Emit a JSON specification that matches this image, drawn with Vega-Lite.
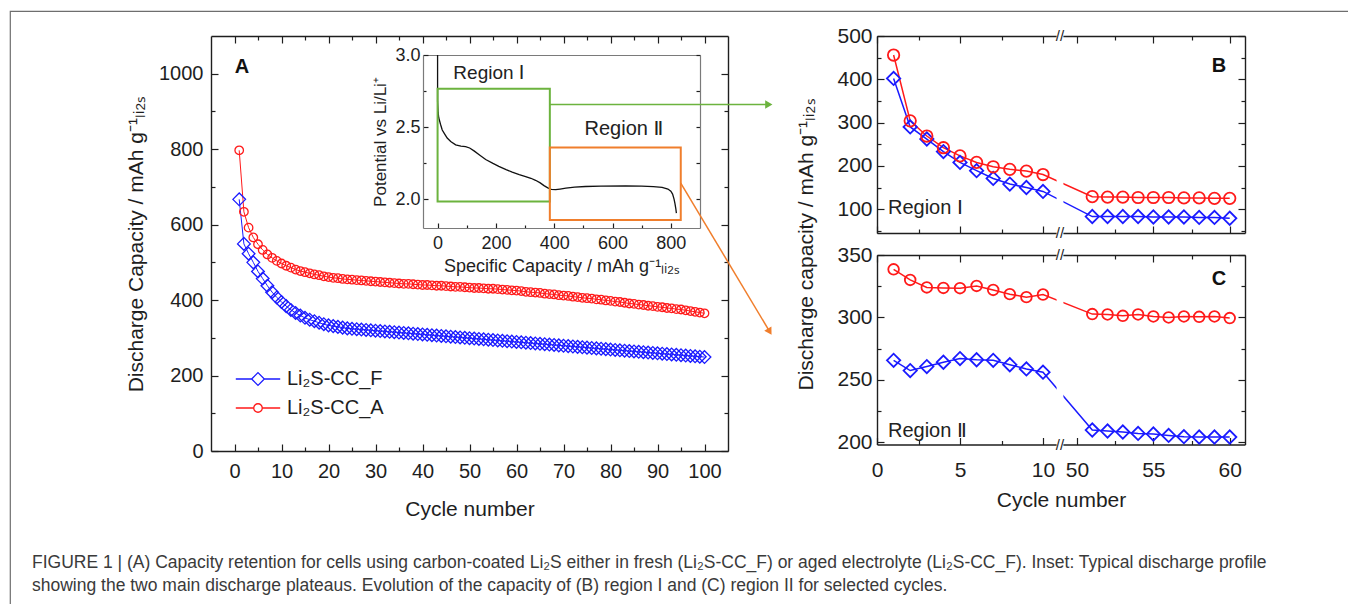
{
"$schema": "https://vega.github.io/schema/vega-lite/v6.json",
"width": 1338,
"height": 593,
"autosize": {"type": "none"},
"padding": {"left": 10, "top": 11, "right": 0, "bottom": 0},
"background": "white",
"config": {
  "view": {"stroke": "#6e6e6e", "strokeWidth": 1.2, "strokeDash": [1338, 1931, 593]},
  "font": "Liberation Sans",
  "axis": {"grid": false, "labelFont": "Liberation Sans", "titleFont": "Liberation Sans", "labelColor": "#1e1e1e", "titleColor": "#1e1e1e", "titleFontWeight": "normal", "domainColor": "#1e1e1e", "domainWidth": 1.4, "tickColor": "#1e1e1e", "tickWidth": 1.2, "labelFlush": false, "labelOverlap": false, "labelBound": false},
  "text": {"font": "Liberation Sans, DejaVu Sans"}
},
"title": {
  "text": ["FIGURE 1 | (A) Capacity retention for cells using carbon-coated Li₂S either in fresh (Li₂S-CC_F) or aged electrolyte (Li₂S-CC_F). Inset: Typical discharge profile", "showing the two main discharge plateaus. Evolution of the capacity of (B) region I and (C) region II for selected cycles."],
  "orient": "bottom", "anchor": "start", "frame": "group", "offset": -50, "dx": 22,
  "font": "Liberation Sans", "fontSize": 17.5, "fontWeight": "normal", "color": "#3a3a3a", "lineHeight": 23
},
"datasets": {
  "a": [{"c":1,"F":667,"A":797},{"c":2,"F":549,"A":634},{"c":3,"F":523,"A":592},{"c":4,"F":500,"A":566},{"c":5,"F":476,"A":548},{"c":6,"F":457,"A":533},{"c":7,"F":438,"A":521},{"c":8,"F":421,"A":512},{"c":9,"F":407,"A":504},{"c":10,"F":395,"A":497},
{"c":11,"F":384,"A":491},{"c":12,"F":374,"A":486},{"c":13,"F":366,"A":481},{"c":14,"F":359,"A":477},{"c":15,"F":353,"A":474},{"c":16,"F":348,"A":471},{"c":17,"F":344,"A":468},{"c":18,"F":340,"A":466},{"c":19,"F":336,"A":463},{"c":20,"F":333,"A":461},
{"c":21,"F":331,"A":459},{"c":22,"F":329,"A":458},{"c":23,"F":327,"A":456},{"c":24,"F":325,"A":455},{"c":25,"F":324,"A":454},{"c":26,"F":323,"A":453},{"c":27,"F":322,"A":452},{"c":28,"F":321,"A":451},{"c":29,"F":320,"A":450},{"c":30,"F":319,"A":449},
{"c":31,"F":318,"A":448},{"c":32,"F":317,"A":447},{"c":33,"F":316,"A":446},{"c":34,"F":315,"A":445},{"c":35,"F":314,"A":444},{"c":36,"F":313,"A":443},{"c":37,"F":312,"A":443},{"c":38,"F":311,"A":442},{"c":39,"F":310,"A":441},{"c":40,"F":309,"A":440},
{"c":41,"F":308,"A":440},{"c":42,"F":307,"A":439},{"c":43,"F":306,"A":438},{"c":44,"F":305,"A":438},{"c":45,"F":304,"A":437},{"c":46,"F":303,"A":436},{"c":47,"F":302,"A":435},{"c":48,"F":301,"A":435},{"c":49,"F":300,"A":434},{"c":50,"F":299,"A":433},
{"c":51,"F":298,"A":432},{"c":52,"F":297,"A":432},{"c":53,"F":296,"A":431},{"c":54,"F":295,"A":430},{"c":55,"F":294,"A":430},{"c":56,"F":293,"A":429},{"c":57,"F":292,"A":428},{"c":58,"F":291,"A":427},{"c":59,"F":290,"A":426},{"c":60,"F":289,"A":425},
{"c":61,"F":288,"A":424},{"c":62,"F":287,"A":422},{"c":63,"F":286,"A":421},{"c":64,"F":285,"A":420},{"c":65,"F":284,"A":419},{"c":66,"F":283,"A":417},{"c":67,"F":282,"A":416},{"c":68,"F":281,"A":415},{"c":69,"F":280,"A":413},{"c":70,"F":279,"A":412},
{"c":71,"F":278,"A":411},{"c":72,"F":277,"A":409},{"c":73,"F":276,"A":408},{"c":74,"F":275,"A":406},{"c":75,"F":274,"A":405},{"c":76,"F":273,"A":404},{"c":77,"F":272,"A":402},{"c":78,"F":271,"A":401},{"c":79,"F":270,"A":399},{"c":80,"F":269,"A":398},
{"c":81,"F":268,"A":396},{"c":82,"F":267,"A":395},{"c":83,"F":266,"A":393},{"c":84,"F":265,"A":391},{"c":85,"F":264,"A":390},{"c":86,"F":263,"A":388},{"c":87,"F":262,"A":387},{"c":88,"F":261,"A":385},{"c":89,"F":260,"A":384},{"c":90,"F":259,"A":382},
{"c":91,"F":258,"A":381},{"c":92,"F":257,"A":379},{"c":93,"F":256,"A":378},{"c":94,"F":255,"A":376},{"c":95,"F":254,"A":375},{"c":96,"F":253,"A":373},{"c":97,"F":252,"A":371},{"c":98,"F":251,"A":369},{"c":99,"F":250,"A":367},{"c":100,"F":249,"A":365}],
  "b": [{"c":1,"F":402,"A":456},{"c":2,"F":290,"A":304},{"c":3,"F":262,"A":269},{"c":4,"F":233,"A":242},{"c":5,"F":208,"A":223},{"c":6,"F":189,"A":208},{"c":7,"F":171,"A":198},{"c":8,"F":158,"A":192},{"c":9,"F":150,"A":188},{"c":10,"F":141,"A":180},
{"c":51,"F":83,"A":129},{"c":52,"F":83,"A":128},{"c":53,"F":83,"A":128},{"c":54,"F":83,"A":127},{"c":55,"F":82,"A":127},{"c":56,"F":82,"A":127},{"c":57,"F":82,"A":126},{"c":58,"F":81,"A":126},{"c":59,"F":81,"A":125},{"c":60,"F":79,"A":125}],
  "cc": [{"c":1,"F":265.5,"A":338.5},{"c":2,"F":257.3,"A":330},{"c":3,"F":260.5,"A":324},{"c":4,"F":264,"A":323.6},{"c":5,"F":266.9,"A":323.4},{"c":6,"F":266,"A":325.2},{"c":7,"F":265.5,"A":322},{"c":8,"F":262,"A":318.6},{"c":9,"F":258.6,"A":316.2},{"c":10,"F":256,"A":318.3},
{"c":51,"F":209.6,"A":302.6},{"c":52,"F":208.8,"A":302.3},{"c":53,"F":208,"A":301.2},{"c":54,"F":206.9,"A":302.3},{"c":55,"F":206.4,"A":300.7},{"c":56,"F":205.3,"A":299.9},{"c":57,"F":204.3,"A":300.7},{"c":58,"F":204,"A":300.4},{"c":59,"F":204,"A":300.7},{"c":60,"F":204,"A":299.4}],
  "ins": [{"i":0,"q":0,"p":3.0},{"i":1,"q":0,"p":2.68},{"i":2,"q":2,"p":2.6},{"i":3,"q":4,"p":2.565},{"i":4,"q":10,"p":2.52},{"i":5,"q":16,"p":2.48},{"i":6,"q":25,"p":2.45},{"i":7,"q":33,"p":2.424},{"i":8,"q":45,"p":2.4},{"i":9,"q":62,"p":2.377},{"i":10,"q":80,"p":2.368},{"i":11,"q":96,"p":2.365},{"i":12,"q":110,"p":2.355},{"i":13,"q":125,"p":2.335},{"i":14,"q":145,"p":2.305},{"i":15,"q":165,"p":2.275},{"i":16,"q":190,"p":2.248},{"i":17,"q":210,"p":2.228},{"i":18,"q":235,"p":2.205},{"i":19,"q":256,"p":2.187},{"i":20,"q":280,"p":2.17},{"i":21,"q":302,"p":2.157},{"i":22,"q":320,"p":2.145},{"i":23,"q":336,"p":2.131},{"i":24,"q":352,"p":2.113},{"i":25,"q":365,"p":2.094},{"i":26,"q":378,"p":2.078},{"i":27,"q":390,"p":2.068},{"i":28,"q":405,"p":2.066},{"i":29,"q":420,"p":2.07},{"i":30,"q":440,"p":2.076},{"i":31,"q":470,"p":2.083},{"i":32,"q":507,"p":2.088},{"i":33,"q":560,"p":2.09},{"i":34,"q":645,"p":2.092},{"i":35,"q":700,"p":2.09},{"i":36,"q":740,"p":2.087},{"i":37,"q":770,"p":2.082},{"i":38,"q":790,"p":2.07},{"i":39,"q":800,"p":2.055},{"i":40,"q":806,"p":2.035},{"i":41,"q":811,"p":2.0},{"i":42,"q":814,"p":1.97},{"i":43,"q":817,"p":1.935},{"i":44,"q":819,"p":1.903}],
  "boxes": [{"r":"I","x1":0,"x2":385,"y1":1.983,"y2":2.766},{"r":"II","x1":385,"x2":834,"y1":1.856,"y2":2.358}],
  "arrows": [{"r":"I","x1":385,"y1":2.657,"x2":1136,"y2":2.657},{"r":"II","x1":834,"y1":2.111,"x2":1139,"y2":1.081}]
},
"resolve": {"scale": {"x": "independent", "y": "independent", "shape": "independent"}},
"layer": [
 {
  "resolve": {"axis": {"x": "independent", "y": "independent"}},
  "layer": [
   {
    "data": {"name": "a"},
    "transform": [{"fold": ["F", "A"], "as": ["s", "v"]}],
    "mark": {"type": "line", "strokeWidth": 1},
    "encoding": {
     "x": {"field": "c", "type": "quantitative",
       "scale": {"domain": [-5, 105], "range": [201, 718], "nice": false, "zero": false},
       "axis": {"orient": "bottom", "offset": -153, "values": [0,5,10,15,20,25,30,35,40,45,50,55,60,65,70,75,80,85,90,95,100],
         "labelExpr": "datum.value % 10 === 0 ? datum.label : ''",
         "tickSize": {"condition": {"test": "datum.value % 10 !== 0", "value": -4}, "value": -7},
         "labelPadding": 17.5, "labelFontSize": 20, "title": "Cycle number", "titleFontSize": 21, "titlePadding": 14}},
     "y": {"field": "v", "type": "quantitative",
       "scale": {"domain": [0, 1100], "range": [440, 25], "nice": false, "zero": false},
       "axis": {"orient": "left", "offset": -201, "values": [0,100,200,300,400,500,600,700,800,900,1000], "format": "d",
         "labelExpr": "datum.value % 200 === 0 ? datum.label : ''",
         "tickSize": {"condition": {"test": "datum.value % 200 !== 0", "value": -4}, "value": -7},
         "labelPadding": 15, "labelFontSize": 20, "title": "Discharge Capacity / mAh g⁻¹ₗᵢ₂ₛ", "titleFontSize": 21, "titlePadding": 12}},
     "color": {"field": "s", "type": "nominal", "scale": {"domain": ["F", "A"], "range": ["#1a1aff", "#ff1a1a"]},
       "legend": {"orient": "none", "legendX": 238, "legendY": 358, "title": null, "padding": 0,
         "labelFontSize": 20, "labelFont": "Liberation Sans", "labelColor": "#1e1e1e", "symbolSize": 161, "symbolStrokeWidth": 1.3,
         "labelOffset": 19, "rowPadding": 9,
         "labelExpr": "datum.value === 'F' ? 'Li₂S-CC_F' : 'Li₂S-CC_A'",
         "encode": {"symbols": {"update": {"shape": {"signal": "datum.value === 'F' ? 'M-3.5,0H-1M1,0H3.5M-1,0L0,-1L1,0L0,1Z' : 'M-3.5,0H-0.67M0.67,0H3.5M0.67,0A0.67,0.67,0,1,1,-0.67,0A0.67,0.67,0,1,1,0.67,0Z'"}, "fill": {"value": "transparent"}, "strokeWidth": {"value": 1.3}}}}}}
    }
   },
   {
    "data": {"name": "a"},
    "transform": [{"fold": ["F", "A"], "as": ["s", "v"]}],
    "mark": {"type": "point", "filled": false, "strokeWidth": 1.3, "opacity": 1, "size": 161},
    "encoding": {
     "x": {"field": "c", "type": "quantitative",
       "axis": {"orient": "top", "offset": -25, "values": [0,5,10,15,20,25,30,35,40,45,50,55,60,65,70,75,80,85,90,95,100], "labels": false, "title": null,
         "tickSize": {"condition": {"test": "datum.value % 10 !== 0", "value": -4}, "value": -7}}},
     "y": {"field": "v", "type": "quantitative",
       "axis": {"orient": "right", "offset": -620, "values": [0,100,200,300,400,500,600,700,800,900,1000], "labels": false, "title": null,
         "tickSize": {"condition": {"test": "datum.value % 200 !== 0", "value": -4}, "value": -7}}},
     "color": {"field": "s", "type": "nominal"},
     "shape": {"field": "s", "type": "nominal",
       "scale": {"domain": ["F", "A"], "range": ["M-1,0L0,-1L1,0L0,1Z", "M0.67,0A0.67,0.67,0,1,1,-0.67,0A0.67,0.67,0,1,1,0.67,0Z"]}, "legend": null}
    }
   },
   {
    "data": {"values": [{"t": "A"}]},
    "mark": {"type": "text", "fontSize": 20, "fontWeight": "bold", "color": "#111"},
    "encoding": {"x": {"datum": 1.6, "type": "quantitative", "axis": null}, "y": {"datum": 1019, "type": "quantitative", "axis": null}, "text": {"field": "t"}}
   }
  ]
 },
 {
  "resolve": {"axis": {"x": "independent", "y": "independent"}},
  "layer": [
   {
    "data": {"name": "ins"},
    "mark": {"type": "line", "color": "#111", "strokeWidth": 1.3},
    "encoding": {
     "x": {"field": "q", "type": "quantitative",
       "scale": {"domain": [-50, 900], "range": [413, 690], "nice": false, "zero": false},
       "axis": {"orient": "bottom", "offset": -376, "values": [0,100,200,300,400,500,600,700,800],
         "labelExpr": "datum.value % 200 === 0 ? datum.label : ''",
         "tickSize": {"condition": {"test": "datum.value % 200 !== 0", "value": -3}, "value": -5},
         "labelPadding": 11, "labelFontSize": 18, "title": "Specific Capacity / mAh g⁻¹ₗᵢ₂ₛ", "titleFontSize": 18, "titlePadding": 3,
         "domainColor": "#7a7a7a", "domainWidth": 1.2}},
     "y": {"field": "p", "type": "quantitative",
       "scale": {"domain": [1.8, 3.0], "range": [217, 44], "nice": false, "zero": false},
       "axis": {"orient": "left", "offset": -413, "values": [2, 2.25, 2.5, 2.75, 3], "format": ".1f",
         "labelExpr": "(datum.value * 4) % 2 === 0 ? datum.label : ''",
         "tickSize": {"condition": {"test": "(datum.value * 4) % 2 !== 0", "value": -3}, "value": -5},
         "labelPadding": 8, "labelFontSize": 18, "title": "Potential vs Li/Li⁺", "titleFontSize": 17, "titlePadding": 5,
         "domainColor": "#7a7a7a", "domainWidth": 1.2}},
     "order": {"field": "i", "type": "quantitative"}
    }
   },
   {
    "data": {"name": "boxes"},
    "mark": {"type": "rect", "fill": "transparent", "strokeWidth": 2},
    "encoding": {
     "x": {"field": "x1", "type": "quantitative", "axis": {"orient": "top", "offset": -44, "labels": false, "ticks": false, "title": null, "domainColor": "#7a7a7a", "domainWidth": 1.2}},
     "x2": {"field": "x2"},
     "y": {"field": "y1", "type": "quantitative", "axis": {"orient": "right", "offset": -648, "values": [2, 2.25, 2.5, 2.75, 3], "labels": false, "title": null, "tickSize": -4, "domainColor": "#7a7a7a", "domainWidth": 1.2}},
     "y2": {"field": "y2"},
     "stroke": {"field": "r", "type": "nominal", "scale": {"domain": ["I", "II"], "range": ["#6cb33e", "#f07e2c"]}, "legend": null}
    }
   },
   {
    "data": {"name": "arrows"},
    "mark": {"type": "rule", "strokeWidth": 1.5},
    "encoding": {
     "x": {"field": "x1", "type": "quantitative", "axis": null},
     "x2": {"field": "x2"},
     "y": {"field": "y1", "type": "quantitative", "axis": null},
     "y2": {"field": "y2"},
     "stroke": {"field": "r", "type": "nominal", "legend": null}
    }
   },
   {
    "data": {"name": "arrows"},
    "transform": [{"filter": "datum.r === 'I'"}],
    "mark": {"type": "point", "shape": "triangle-right", "filled": true, "size": 70, "color": "#6cb33e", "opacity": 1},
    "encoding": {"x": {"field": "x2", "type": "quantitative", "axis": null}, "y": {"field": "y2", "type": "quantitative", "axis": null}}
   },
   {
    "data": {"name": "arrows"},
    "transform": [{"filter": "datum.r === 'II'"}],
    "mark": {"type": "point", "shape": "triangle-right", "filled": true, "size": 70, "color": "#f07e2c", "opacity": 1, "angle": 59},
    "encoding": {"x": {"field": "x2", "type": "quantitative", "axis": null}, "y": {"field": "y2", "type": "quantitative", "axis": null}}
   },
   {
    "data": {"values": [{"t": "Region Ⅰ"}]},
    "mark": {"type": "text", "fontSize": 19, "color": "#222"},
    "encoding": {"x": {"datum": 176, "type": "quantitative", "axis": null}, "y": {"datum": 2.877, "type": "quantitative", "axis": null}, "text": {"field": "t"}}
   },
   {
    "data": {"values": [{"t": "Region Ⅱ"}]},
    "mark": {"type": "text", "fontSize": 20, "color": "#222"},
    "encoding": {"x": {"datum": 639, "type": "quantitative", "axis": null}, "y": {"datum": 2.488, "type": "quantitative", "axis": null}, "text": {"field": "t"}}
   }
  ]
 },
 {
  "resolve": {"axis": {"x": "independent", "y": "independent"}},
  "layer": [
   {
    "data": {"name": "b"},
    "transform": [{"fold": ["F", "A"], "as": ["s", "v"]}],
    "mark": {"type": "line", "strokeWidth": 1.5},
    "encoding": {
     "x": {"field": "c", "type": "quantitative",
       "scale": {"domain": [0, 10, 50, 61], "range": [867, 1033, 1067, 1235], "nice": false, "zero": false},
       "axis": {"orient": "bottom", "offset": -371, "values": [0,2.5,5,7.5,10,50,52.5,55,57.5,60], "labels": false, "title": null,
         "tickSize": {"condition": {"test": "datum.value % 5 !== 0", "value": -4}, "value": -7}}},
     "y": {"field": "v", "type": "quantitative",
       "scale": {"domain": [45, 500], "range": [222, 25], "nice": false, "zero": false},
       "axis": {"orient": "left", "offset": -867, "values": [50,100,150,200,250,300,350,400,450,500],
         "labelExpr": "datum.value % 100 === 0 ? datum.label : ''",
         "tickSize": {"condition": {"test": "datum.value % 100 !== 0", "value": -4}, "value": -7},
         "labelPadding": 12, "labelFontSize": 21, "title": "Discharge capacity / mAh g⁻¹ₗᵢ₂ₛ", "titleFontSize": 21, "titleX": -61, "titleY": 233}},
     "color": {"field": "s", "type": "nominal"}
    }
   },
   {
    "data": {"values": [{"k": 1}]},
    "mark": {"type": "rect", "color": "white", "opacity": 1},
    "encoding": {"x": {"datum": 26, "type": "quantitative", "axis": null}, "x2": {"datum": 34}, "y": {"datum": 40, "type": "quantitative", "axis": null}, "y2": {"datum": 505}}
   },
   {
    "data": {"name": "b"},
    "transform": [{"fold": ["F", "A"], "as": ["s", "v"]}],
    "mark": {"type": "point", "filled": false, "strokeWidth": 1.8, "opacity": 1, "size": 177},
    "encoding": {
     "x": {"field": "c", "type": "quantitative",
       "axis": {"orient": "top", "offset": -25, "values": [0,2.5,5,7.5,10,50,52.5,55,57.5,60], "labels": false, "title": null,
         "tickSize": {"condition": {"test": "datum.value % 5 !== 0", "value": -4}, "value": -7}}},
     "y": {"field": "v", "type": "quantitative",
       "axis": {"orient": "right", "offset": -103, "values": [50,100,150,200,250,300,350,400,450,500], "labels": false, "title": null,
         "tickSize": {"condition": {"test": "datum.value % 100 !== 0", "value": -4}, "value": -7}}},
     "color": {"field": "s", "type": "nominal"},
     "shape": {"field": "s", "type": "nominal",
       "scale": {"domain": ["F", "A"], "range": ["M-1,0L0,-1L1,0L0,1Z", "M0.86,0A0.86,0.86,0,1,1,-0.86,0A0.86,0.86,0,1,1,0.86,0Z"]}, "legend": null}
    }
   },
   {
    "data": {"values": [{"t": "B"}]},
    "mark": {"type": "text", "fontSize": 20, "fontWeight": "bold", "color": "#111"},
    "encoding": {"x": {"datum": 59.3, "type": "quantitative", "axis": null}, "y": {"datum": 430, "type": "quantitative", "axis": null}, "text": {"field": "t"}}
   },
   {
    "data": {"values": [{"t": "Region Ⅰ"}]},
    "mark": {"type": "text", "fontSize": 20, "color": "#222", "align": "left"},
    "encoding": {"x": {"datum": 0.66, "type": "quantitative", "axis": null}, "y": {"datum": 103, "type": "quantitative", "axis": null}, "text": {"field": "t"}}
   },
   {
    "data": {"values": [{"t": "//"}]},
    "mark": {"type": "text", "fontSize": 15, "color": "#1e1e1e"},
    "encoding": {"x": {"datum": 30, "type": "quantitative", "axis": null}, "y": {"datum": 500, "type": "quantitative", "axis": null}, "text": {"field": "t"}}
   },
   {
    "data": {"values": [{"t": "//"}]},
    "mark": {"type": "text", "fontSize": 15, "color": "#1e1e1e"},
    "encoding": {"x": {"datum": 30, "type": "quantitative", "axis": null}, "y": {"datum": 45, "type": "quantitative", "axis": null}, "text": {"field": "t"}}
   }
  ]
 },
 {
  "resolve": {"axis": {"x": "independent", "y": "independent"}},
  "layer": [
   {
    "data": {"name": "cc"},
    "transform": [{"fold": ["F", "A"], "as": ["s", "v"]}],
    "mark": {"type": "line", "strokeWidth": 1.5},
    "encoding": {
     "x": {"field": "c", "type": "quantitative",
       "scale": {"domain": [0, 10, 50, 61], "range": [867, 1033, 1067, 1235], "nice": false, "zero": false},
       "axis": {"orient": "bottom", "offset": -159.5, "values": [0,2.5,5,7.5,10,50,52.5,55,57.5,60],
         "labelExpr": "datum.value % 5 === 0 ? datum.label : ''",
         "tickSize": {"condition": {"test": "datum.value % 5 !== 0", "value": -4}, "value": -7},
         "labelPadding": 22, "labelFontSize": 21, "title": "Cycle number", "titleFontSize": 21, "titlePadding": 6}},
     "y": {"field": "v", "type": "quantitative",
       "scale": {"domain": [198, 350], "range": [433.5, 244], "nice": false, "zero": false},
       "axis": {"orient": "left", "offset": -867, "values": [200,225,250,275,300,325,350],
         "labelExpr": "datum.value % 50 === 0 ? datum.label : ''",
         "tickSize": {"condition": {"test": "datum.value % 50 !== 0", "value": -4}, "value": -7},
         "labelPadding": 12, "labelFontSize": 21, "title": null}},
     "color": {"field": "s", "type": "nominal"}
    }
   },
   {
    "data": {"values": [{"k": 1}]},
    "mark": {"type": "rect", "color": "white", "opacity": 1},
    "encoding": {"x": {"datum": 26, "type": "quantitative", "axis": null}, "x2": {"datum": 34}, "y": {"datum": 195, "type": "quantitative", "axis": null}, "y2": {"datum": 353}}
   },
   {
    "data": {"name": "cc"},
    "transform": [{"fold": ["F", "A"], "as": ["s", "v"]}],
    "mark": {"type": "point", "filled": false, "strokeWidth": 1.8, "opacity": 1, "size": 177},
    "encoding": {
     "x": {"field": "c", "type": "quantitative",
       "axis": {"orient": "top", "offset": -244, "values": [0,2.5,5,7.5,10,50,52.5,55,57.5,60], "labels": false, "title": null,
         "tickSize": {"condition": {"test": "datum.value % 5 !== 0", "value": -4}, "value": -7}}},
     "y": {"field": "v", "type": "quantitative",
       "axis": {"orient": "right", "offset": -103, "values": [200,225,250,275,300,325,350], "labels": false, "title": null,
         "tickSize": {"condition": {"test": "datum.value % 50 !== 0", "value": -4}, "value": -7}}},
     "color": {"field": "s", "type": "nominal"},
     "shape": {"field": "s", "type": "nominal",
       "scale": {"domain": ["F", "A"], "range": ["M-1,0L0,-1L1,0L0,1Z", "M0.8,0A0.8,0.8,0,1,1,-0.8,0A0.8,0.8,0,1,1,0.8,0Z"]}, "legend": null}
    }
   },
   {
    "data": {"values": [{"t": "C"}]},
    "mark": {"type": "text", "fontSize": 20, "fontWeight": "bold", "color": "#111"},
    "encoding": {"x": {"datum": 59.3, "type": "quantitative", "axis": null}, "y": {"datum": 330.8, "type": "quantitative", "axis": null}, "text": {"field": "t"}}
   },
   {
    "data": {"values": [{"t": "Region Ⅱ"}]},
    "mark": {"type": "text", "fontSize": 20, "color": "#222", "align": "left"},
    "encoding": {"x": {"datum": 0.66, "type": "quantitative", "axis": null}, "y": {"datum": 208.6, "type": "quantitative", "axis": null}, "text": {"field": "t"}}
   },
   {
    "data": {"values": [{"t": "//"}]},
    "mark": {"type": "text", "fontSize": 15, "color": "#1e1e1e"},
    "encoding": {"x": {"datum": 30, "type": "quantitative", "axis": null}, "y": {"datum": 350, "type": "quantitative", "axis": null}, "text": {"field": "t"}}
   },
   {
    "data": {"values": [{"t": "//"}]},
    "mark": {"type": "text", "fontSize": 15, "color": "#1e1e1e"},
    "encoding": {"x": {"datum": 30, "type": "quantitative", "axis": null}, "y": {"datum": 198, "type": "quantitative", "axis": null}, "text": {"field": "t"}}
   }
  ]
 }
]
}
